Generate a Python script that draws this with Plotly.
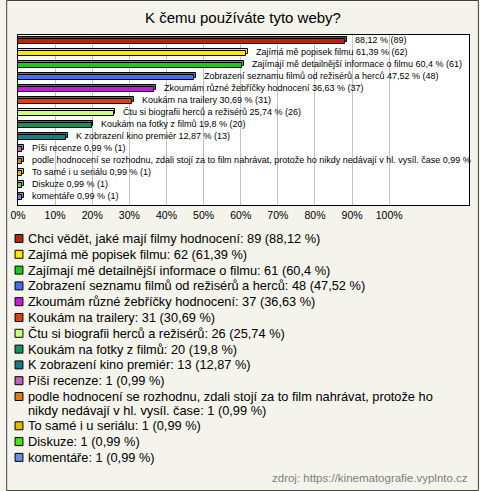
import plotly.graph_objects as go

# ---------------- data ----------------
title = "K čemu používáte tyto weby?"
categories = [
    "Chci vědět, jaké mají filmy hodnocení",
    "Zajímá mě popisek filmu",
    "Zajímají mě detailnější informace o filmu",
    "Zobrazení seznamu filmů od režisérů a herců",
    "Zkoumám různé žebříčky hodnocení",
    "Koukám na trailery",
    "Čtu si biografii herců a režisérů",
    "Koukám na fotky z filmů",
    "K zobrazení kino premiér",
    "Píši recenze",
    "podle hodnocení se rozhodnu, zdali stojí za to film nahrávat, protože ho nikdy nedávají v hl. vysíl. čase",
    "To samé i u seriálu",
    "Diskuze",
    "komentáře",
]
counts = [89, 62, 61, 48, 37, 31, 26, 20, 13, 1, 1, 1, 1, 1]
percents = [88.12, 61.39, 60.4, 47.52, 36.63, 30.69, 25.74, 19.8, 12.87, 0.99, 0.99, 0.99, 0.99, 0.99]
colors = ["#C0200C", "#FFE800", "#1EC81E", "#4A6EEA", "#C01ED8", "#E0400A", "#CCFF7A",
          "#13915E", "#1B7A8A", "#C060C0", "#E87A10", "#E8B400", "#48E028", "#6A8EE0"]
tick_values = [0, 10, 20, 30, 40, 50, 60, 70, 80, 90, 100]
tick_labels = [f"{v}%" for v in tick_values]
source = "zdroj: https://kinematografie.vyplnto.cz"

# ---------------- geometry helpers ----------------
FW, FH = 480, 491
L, R, T, B = 12, 10, 35, 286
PW, PH = FW - L - R, FH - T - B


def xp(px):
    return (px - L) / PW


def yp(py):
    return (FH - B - py) / PH


def fmt(p):
    return str(p).replace(".", ",")


FONT = "Liberation Sans, Arial, sans-serif"

fig = go.Figure()

# back (depth) face of the 3D bars
fig.add_trace(go.Bar(
    y=categories, x=[p + 0.5 for p in percents], orientation="h",
    marker=dict(color=colors, line=dict(color="#000000", width=1)),
    width=0.42, offset=-0.33, showlegend=False, hoverinfo="skip",
))
# front face
fig.add_trace(go.Bar(
    y=categories, x=percents, orientation="h",
    marker=dict(color=colors, line=dict(color="#000000", width=1)),
    width=0.42, offset=-0.15, showlegend=False,
))

annotations = []
# bar labels
for i, (c, n, p) in enumerate(zip(categories, counts, percents)):
    if i == 0:
        txt = f"{fmt(p)} % ({n})"
    elif len(c) > 60:
        txt = f"{c} {fmt(p)} %"
    else:
        txt = f"{c} {fmt(p)} % ({n})"
    annotations.append(dict(
        x=p + 0.5, y=c, xref="x", yref="y", text=txt, showarrow=False,
        xanchor="left", yanchor="middle", xshift=6, yshift=1,
        font=dict(family=FONT, size=9, color="#000000"),
    ))

# legend (drawn manually)
shapes = []
line_y = 238.5
for i, (c, n, p, col) in enumerate(zip(categories, counts, percents, colors)):
    shapes.append(dict(
        type="rect", xref="paper", yref="paper",
        x0=xp(9), x1=xp(17), y0=yp(line_y + 4), y1=yp(line_y - 4),
        fillcolor=col, line=dict(color="#000000", width=1),
    ))
    full = f"{c}: {n} ({fmt(p)} %)"
    if len(full) > 75:
        cut = full.rfind(" ho ") + 3
        parts = [full[:cut], full[cut + 1:]]
    else:
        parts = [full]
    for k, part in enumerate(parts):
        annotations.append(dict(
            x=xp(20), y=yp(line_y), xref="paper", yref="paper", text=part,
            showarrow=False, xanchor="left", yanchor="middle",
            font=dict(family=FONT, size=12.8, color="#000000"),
        ))
        if k < len(parts) - 1:
            line_y += 13.5
    line_y += 15.8

# title
annotations.append(dict(
    x=xp(240), y=yp(18), xref="paper", yref="paper", text=title, showarrow=False,
    xanchor="center", yanchor="middle", font=dict(family=FONT, size=15, color="#000000"),
))
# source
annotations.append(dict(
    x=xp(471), y=yp(478), xref="paper", yref="paper", text=source, showarrow=False,
    xanchor="right", yanchor="middle", font=dict(family=FONT, size=11.5, color="#808080"),
))

# outer frame
shapes.append(dict(
    type="rect", xref="paper", yref="paper",
    x0=xp(0.5), x1=xp(FW - 0.5), y0=yp(FH - 0.5), y1=yp(0.5),
    line=dict(color="#404040", width=1), fillcolor="rgba(0,0,0,0)", layer="below",
))

fig.update_layout(
    width=FW, height=FH,
    margin=dict(l=L, r=R, t=T, b=B, pad=0),
    paper_bgcolor="#F4F3EC", plot_bgcolor="#FFFFFF",
    barmode="overlay", bargap=0,
    showlegend=False,
    annotations=annotations, shapes=shapes,
    xaxis=dict(
        range=[0, 121.5], tickvals=tick_values, ticktext=tick_labels,
        showgrid=True, gridcolor="#C4C4C4", gridwidth=1, zeroline=False,
        showline=True, mirror=True, linecolor="#000000", linewidth=1,
        ticks="", tickfont=dict(family=FONT, size=10.5, color="#000000"),
        fixedrange=True,
    ),
    yaxis=dict(
        categoryorder="array", categoryarray=categories, autorange="reversed",
        showticklabels=False, showgrid=False, zeroline=False,
        showline=True, mirror=True, linecolor="#000000", linewidth=1,
        ticks="", fixedrange=True,
    ),
)

fig.write_html(
    "out.html",
    config={"displayModeBar": False},
    post_script="document.body.style.margin='0';document.body.style.overflow='hidden';",
)
